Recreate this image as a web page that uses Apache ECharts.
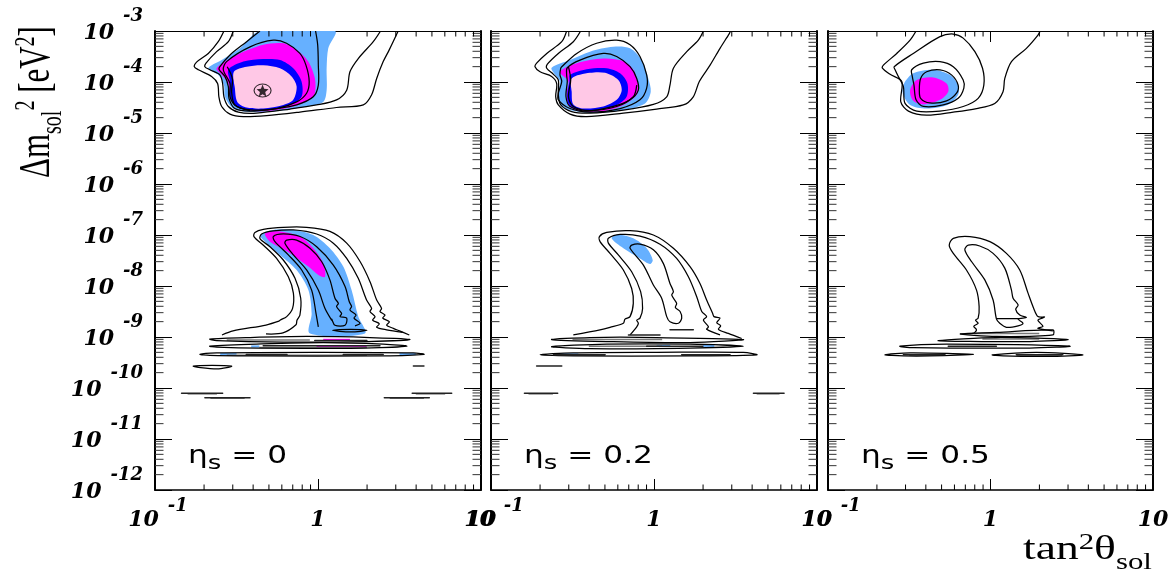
<!DOCTYPE html>
<html><head><meta charset="utf-8">
<style>html,body{margin:0;padding:0;background:#fff}#c{width:1172px;height:572px}</style>
<script src="https://cdn.jsdelivr.net/npm/echarts@6/dist/echarts.min.js"></script>
</head><body><div id="c"></div>
<script>
// All contours are [log10(tan^2 theta), log10(dm^2 / eV^2)].
const panelLabels = ['0','0.2','0.5'];
const yDecades = [-12,-11,-10,-9,-8,-7,-6,-5,-4];
const xDecades = [-1,0];
const minorMultipliers = [2,3,4,5,6,7,8,9];
const bestFit = [[0.457,6.8e-5]];

// ---- panel 1, large-mixing region
const p1Outer=[[-.577,-3],[-.612,-3.21],[-.673,-3.44],[-.745,-3.61],[-.759,-3.70],[-.734,-3.76],[-.653,-3.89],[-.616,-4.03],[-.608,-4.29],[-.591,-4.48],[-.54,-4.63],[-.458,-4.68],[-.315,-4.66],[-.111,-4.59],[.114,-4.50],[.278,-4.45],[.329,-4.25],[.36,-3.93],[.40,-3.60],[.437,-3.37],[.492,-3]];
const p1Second=[[-.52,-3],[-.55,-3.21],[-.622,-3.405],[-.687,-3.63],[-.694,-3.70],[-.663,-3.76],[-.602,-3.86],[-.585,-4.03],[-.577,-4.29],[-.55,-4.48],[-.489,-4.59],[-.377,-4.61],[-.172,-4.53],[-.009,-4.45],[.114,-4.35],[.176,-4.16],[.196,-3.80],[.247,-3.54],[.339,-3.21],[.384,-3]];
const p1Third=[[-.356,-3],[-.438,-3.21],[-.54,-3.47],[-.602,-3.70],[-.606,-3.76],[-.571,-3.89],[-.55,-4.09],[-.546,-4.32],[-.51,-4.52],[-.417,-4.57],[-.254,-4.52],[-.131,-4.45],[-.029,-4.29],[.002,-4.06],[.002,-3.67],[-.002,-3.27],[-.015,-3]];
const p1Fourth=[[-.561,-3.60],[-.417,-3.31],[-.274,-3.18],[-.193,-3.24],[-.111,-3.44],[-.074,-3.67],[-.054,-3.99],[-.07,-4.22],[-.131,-4.39],[-.254,-4.52],[-.397,-4.55],[-.499,-4.48],[-.54,-4.29],[-.54,-4.03],[-.581,-3.76]];
const p1Fifth=[[-.557,-3.70],[-.536,-3.83],[-.524,-3.96],[-.53,-4.19],[-.51,-4.45],[-.417,-4.56]];
const p1Light=[[-.356,-3],[.104,-3],[.063,-3.34],[.053,-3.73],[.053,-4.16],[.032,-4.39],[-.07,-4.48],[-.254,-4.57],[-.417,-4.59],[-.52,-4.52],[-.571,-4.29],[-.577,-4.06],[-.612,-3.86],[-.673,-3.73],[-.591,-3.57],[-.479,-3.34]];
const p1Magenta=[[-.622,-3.73],[-.499,-3.47],[-.336,-3.27],[-.213,-3.24],[-.131,-3.37],[-.06,-3.60],[-.019,-3.93],[-.019,-4.22],[-.05,-4.35],[-.152,-4.48],[-.315,-4.57],[-.438,-4.55],[-.51,-4.45],[-.54,-4.29],[-.55,-4.03],[-.591,-3.86]];
const p1Blue=[[-.55,-3.76],[-.458,-3.60],[-.336,-3.55],[-.233,-3.57],[-.152,-3.73],[-.101,-3.99],[-.101,-4.29],[-.172,-4.45],[-.315,-4.55],[-.438,-4.55],[-.51,-4.45],[-.54,-4.29],[-.54,-3.99]];
const p1Pink=[[-.516,-3.80],[-.438,-3.70],[-.336,-3.67],[-.233,-3.73],[-.162,-3.89],[-.131,-4.09],[-.152,-4.35],[-.213,-4.45],[-.336,-4.52],[-.438,-4.50],[-.495,-4.39],[-.51,-4.12]];

// ---- panel 2, large-mixing region
const p2Outer=[[-.536,-3],[-.566,-3.21],[-.658,-3.44],[-.72,-3.63],[-.73,-3.70],[-.699,-3.80],[-.628,-3.89],[-.597,-4.03],[-.603,-4.29],[-.587,-4.45],[-.515,-4.63],[-.413,-4.68],[-.188,-4.61],[.016,-4.53],[.18,-4.45],[.241,-4.29],[.278,-3.99],[.344,-3.67],[.405,-3.34],[.462,-3.05],[.47,-3]];
const p2Second=[[-.45,-3],[-.495,-3.21],[-.587,-3.44],[-.654,-3.65],[-.658,-3.73],[-.617,-3.85],[-.587,-3.96],[-.587,-4.25],[-.572,-4.45],[-.505,-4.58],[-.393,-4.61],[-.188,-4.55],[-.004,-4.44],[.078,-4.29],[.098,-4.06],[.119,-3.73],[.201,-3.405],[.272,-3.18],[.303,-3]];
const p2Third=[[-.566,-3.70],[-.474,-3.44],[-.352,-3.24],[-.229,-3.18],[-.147,-3.27],[-.086,-3.50],[-.045,-3.86],[-.045,-4.12],[-.086,-4.35],[-.208,-4.52],[-.393,-4.59],[-.515,-4.52],[-.587,-4.35],[-.587,-4.22],[-.566,-3.99],[-.577,-3.86],[-.572,-3.73]];
const p2Fourth=[[-.532,-3.72],[-.454,-3.57],[-.311,-3.44],[-.229,-3.50],[-.147,-3.70],[-.106,-3.93],[-.096,-4.16],[-.147,-4.35],[-.249,-4.48],[-.413,-4.57],[-.515,-4.48],[-.54,-4.29],[-.532,-3.99],[-.536,-3.86]];
const p2Fifth=[[-.525,-3.70],[-.511,-3.96],[-.525,-4.29],[-.495,-4.48],[-.393,-4.56],[-.229,-4.48],[-.127,-4.29],[-.106,-4.06]];
const p2Light=[[-.628,-3.72],[-.515,-3.57],[-.393,-3.405],[-.25,-3.31],[-.147,-3.34],[-.076,-3.57],[-.035,-3.93],[-.02,-4.19],[-.055,-4.42],[-.188,-4.55],[-.372,-4.61],[-.515,-4.55],[-.577,-4.42],[-.587,-4.22],[-.577,-3.99],[-.607,-3.86]];
const p2Magenta=[[-.577,-3.80],[-.474,-3.63],[-.311,-3.54],[-.188,-3.59],[-.127,-3.76],[-.096,-4.06],[-.106,-4.25],[-.188,-4.45],[-.311,-4.57],[-.454,-4.57],[-.525,-4.45],[-.536,-4.22],[-.525,-3.99]];
const p2Blue=[[-.515,-3.86],[-.413,-3.75],[-.29,-3.73],[-.208,-3.83],[-.163,-4.03],[-.168,-4.29],[-.229,-4.45],[-.352,-4.55],[-.474,-4.53],[-.525,-4.42],[-.532,-4.22],[-.519,-3.99]];
const p2Pink=[[-.505,-3.93],[-.393,-3.82],[-.30,-3.82],[-.219,-3.96],[-.198,-4.16],[-.229,-4.35],[-.311,-4.48],[-.433,-4.52],[-.495,-4.44],[-.505,-4.19]];

// ---- panel 3, large-mixing region
const p3Outer=[[-.458,-3],[-.495,-3.18],[-.577,-3.44],[-.659,-3.67],[-.665,-3.73],[-.618,-3.85],[-.546,-3.99],[-.552,-4.39],[-.505,-4.57],[-.393,-4.65],[-.229,-4.59],[-.086,-4.52],[.026,-4.42],[.077,-4.19],[.088,-3.93],[.129,-3.60],[.221,-3.34],[.292,-3.08],[.306,-3]];
const p3Second=[[-.593,-3.70],[-.475,-3.44],[-.311,-3.11],[-.229,-3.06],[-.168,-3.14],[-.096,-3.405],[-.049,-3.73],[-.041,-4.06],[-.076,-4.32],[-.168,-4.48],[-.311,-4.57],[-.454,-4.57],[-.526,-4.42],[-.536,-4.09],[-.567,-3.895],[-.587,-3.76]];
const p3Third=[[-.485,-3.76],[-.413,-3.63],[-.311,-3.60],[-.229,-3.70],[-.168,-3.96],[-.164,-4.12],[-.199,-4.32],[-.291,-4.45],[-.413,-4.48],[-.458,-4.35],[-.471,-4.06],[-.481,-3.895]];
const p3Fourth=[[-.43,-3.93],[-.393,-3.80],[-.311,-3.76],[-.24,-3.86],[-.199,-4.06],[-.209,-4.22],[-.27,-4.37],[-.373,-4.41],[-.43,-4.32],[-.438,-4.16]];
const p3Light=[[-.532,-4.03],[-.475,-3.83],[-.352,-3.76],[-.25,-3.86],[-.199,-4.06],[-.199,-4.25],[-.26,-4.44],[-.393,-4.52],[-.495,-4.45],[-.54,-4.22]];
const p3Magenta=[[-.495,-4.16],[-.454,-3.96],[-.352,-3.91],[-.27,-4.03],[-.26,-4.19],[-.311,-4.35],[-.413,-4.44],[-.475,-4.37]];

// ---- panel 1, low region tongues
const p1LowOuter=[[-.589,-8.96],[-.521,-8.88],[-.319,-8.765],[-.24,-8.69],[-.233,-8.67],[-.192,-8.60],[-.156,-8.44],[-.151,-8.14],[-.182,-7.82],[-.254,-7.46],[-.335,-7.20],[-.393,-7.03],[-.387,-6.95],[-.335,-6.89],[-.213,-6.85],[-.07,-6.85],[.073,-6.93],[.176,-7.16],[.258,-7.52],[.319,-7.915],[.36,-8.275],[.39,-8.44],[.38,-8.50],[.411,-8.57],[.397,-8.63],[.438,-8.70],[.421,-8.77],[.462,-8.83],[.50,-8.88],[.56,-8.96]];
const p1LowSecond=[[-.319,-8.94],[-.215,-8.92],[-.135,-8.76],[-.129,-8.67],[-.111,-8.57],[-.106,-8.24],[-.141,-7.85],[-.213,-7.49],[-.295,-7.23],[-.356,-7.07],[-.346,-6.98],[-.274,-6.92],[-.151,-6.90],[-.008,-6.98],[.094,-7.16],[.176,-7.46],[.247,-7.85],[.298,-8.275],[.329,-8.44],[.319,-8.50],[.35,-8.60],[.335,-8.67],[.376,-8.74],[.36,-8.81],[.421,-8.86],[.52,-8.91]];
const p1LowThird=[[.002,-8.80],[-.012,-8.54],[-.039,-8.08],[-.10,-7.686],[-.182,-7.39],[-.264,-7.13],[-.274,-7.03],[-.213,-6.98],[-.11,-7.03],[-.008,-7.23],[.094,-7.59],[.166,-8.01],[.192,-8.31],[.206,-8.40],[.196,-8.47],[.233,-8.57],[.221,-8.63],[.258,-8.73],[.227,-8.78]];
const p1LowFourth=[[.084,-8.67],[.043,-8.44],[.002,-8.08],[-.07,-7.686],[-.151,-7.39],[-.203,-7.16],[-.192,-7.10],[-.131,-7.10],[-.049,-7.26],[.022,-7.52],[.073,-7.88],[.104,-8.24],[.125,-8.34],[.114,-8.405],[.145,-8.54],[.135,-8.60],[.176,-8.63],[.166,-8.77],[.104,-8.77],[.084,-8.65]];
const p1LowLight=[[-.356,-7],[-.274,-6.90],[-.151,-6.90],[-.029,-7],[.073,-7.26],[.155,-7.62],[.206,-8.08],[.247,-8.60],[.288,-8.93],[-.049,-8.93],[-.039,-8.54],[-.059,-8.08],[-.131,-7.686],[-.233,-7.39],[-.315,-7.16]];
const p1LowMagenta=[[-.325,-6.97],[-.233,-6.93],[-.11,-7.03],[-.029,-7.26],[.033,-7.556],[.043,-7.82],[.002,-7.784],[-.059,-7.62],[-.141,-7.425],[-.223,-7.26],[-.295,-7.13]];
const p1Flat0=[[.09,-8.87],[.20,-8.85],[.30,-8.87],[.20,-8.90]];
const p1Flat1=[[-.663,-9.04],[-.417,-9.01],[-.07,-8.99],[.319,-9.01],[.564,-9.05],[.298,-9.09],[-.213,-9.10],[-.622,-9.07]];
const p1Flat2=[[-.663,-9.18],[-.377,-9.14],[.032,-9.11],[.40,-9.14],[.544,-9.18],[.278,-9.216],[-.356,-9.22],[-.622,-9.20]];
const p1Flat3=[[-.724,-9.34],[-.622,-9.31],[-.009,-9.30],[.585,-9.31],[.65,-9.34],[.40,-9.37],[-.417,-9.37],[-.663,-9.36]];
const p1Loop=[[-.765,-9.57],[-.65,-9.555],[-.53,-9.57],[-.56,-9.60],[-.62,-9.625],[-.72,-9.60]];
const p1Bars=[[[-.336,-9.17],[.38,-9.17]],[[-.02,-9.07],[.30,-9.07]],[[-.44,-9.345],[-.19,-9.345]],[[.155,-9.345],[.40,-9.345]],[[.585,-9.57],[.65,-9.57]],[[-.837,-10.105],[-.585,-10.105]],[[-.694,-10.19],[-.417,-10.19]],[[.407,-10.19],[.683,-10.19]],[[.578,-10.105],[.82,-10.105]]];
const p1GrayBars=[[[-.56,-9.06],[-.05,-9.06]],[[-.36,-9.205],[.30,-9.205]],[[-.56,-9.36],[.30,-9.36]],[[-.80,-10.115],[-.62,-10.115]],[[-.66,-10.20],[-.45,-10.20]],[[.44,-10.20],[.65,-10.20]],[[.60,-10.115],[.78,-10.115]]];
const p1LowMagentaBits=[[[-.009,-9.185],[.298,-9.185]],[[.032,-9.055],[.196,-9.055]]];
const p1LowBlueBits=[[[-.41,-9.185],[-.36,-9.185]],[[-.60,-9.335],[-.50,-9.335]],[[.50,-9.335],[.60,-9.335]]];

// ---- panel 2, low region tongues
const p2LowOuter=[[-.495,-8.96],[-.331,-8.86],[-.27,-8.81],[-.188,-8.73],[-.178,-8.65],[-.147,-8.60],[-.127,-8.34],[-.137,-8.05],[-.188,-7.686],[-.27,-7.36],[-.331,-7.13],[-.335,-7.03],[-.29,-6.95],[-.147,-6.915],[-.004,-7],[.119,-7.26],[.221,-7.62],[.282,-7.95],[.323,-8.275],[.36,-8.54],[.368,-8.60],[.405,-8.63],[.385,-8.72],[.409,-8.78],[.395,-8.85],[.456,-8.93],[.538,-9.03]];
const p2LowSecond=[[-.147,-8.96],[-.106,-8.80],[-.096,-8.73],[-.106,-8.67],[-.086,-8.63],[-.07,-8.44],[-.082,-8.11],[-.137,-7.72],[-.219,-7.39],[-.28,-7.16],[-.28,-7.065],[-.208,-6.99],[-.086,-7.02],[.037,-7.18],[.139,-7.46],[.211,-7.82],[.262,-8.21],[.293,-8.50],[.323,-8.60],[.303,-8.67],[.334,-8.80],[.323,-8.85],[.405,-8.96]];
const p2LowThird=[[-.147,-7.26],[-.137,-7.20],[-.086,-7.18],[-.004,-7.29],[.057,-7.556],[.098,-7.95],[.119,-8.11],[.109,-8.18],[.139,-8.34],[.131,-8.42],[.16,-8.50],[.17,-8.63],[.15,-8.73],[.098,-8.70],[.078,-8.60],[.047,-8.24],[-.004,-7.98],[-.065,-7.59]];
const p2LowLight=[[-.26,-7.065],[-.219,-6.995],[-.127,-7.065],[-.045,-7.26],[-.008,-7.49],[-.024,-7.57],[-.086,-7.46],[-.188,-7.26]];
const p2Flat1=[[-.628,-9.05],[-.393,-9.01],[.016,-9.01],[.548,-9.05],[.221,-9.11],[-.29,-9.09]];
const p2Flat2=[[-.628,-9.19],[-.29,-9.14],[.221,-9.14],[.548,-9.18],[.221,-9.216],[-.393,-9.23]];
const p2Flat3=[[-.699,-9.35],[-.495,-9.31],[.016,-9.30],[.548,-9.30],[.63,-9.35],[.221,-9.37],[-.495,-9.37]];
const p2Bars=[[[-.045,-9.18],[.30,-9.18]],[[-.617,-9.35],[-.30,-9.35]],[[.17,-9.35],[.466,-9.35]],[[-.157,-8.96],[.037,-8.96]],[[.098,-8.86],[.241,-8.86]],[[-.72,-9.57],[-.566,-9.57]],[[-.795,-10.105],[-.591,-10.105]],[[.61,-10.105],[.798,-10.105]]];
const p2GrayBars=[[[-.50,-9.05],[.05,-9.05]],[[-.40,-9.18],[.05,-9.18]],[[-.60,-9.36],[-.30,-9.36]],[[.17,-9.36],[.47,-9.36]],[[-.77,-10.115],[-.62,-10.115]],[[.63,-10.115],[.77,-10.115]]];
const p2LowBlueBits=[[[-.576,-9.34],[-.464,-9.34]],[[.016,-9.175],[.10,-9.175]],[[.30,-9.175],[.37,-9.175]]];

// ---- panel 3, low region tongues
const p3LowOuter=[[-.188,-8.94],[-.107,-8.93],[-.086,-8.86],[-.103,-8.79],[-.076,-8.73],[-.092,-8.67],[-.076,-8.63],[-.07,-8.405],[-.086,-8.08],[-.148,-7.686],[-.229,-7.36],[-.254,-7.20],[-.229,-7.065],[-.127,-7.03],[-.004,-7.13],[.098,-7.36],[.18,-7.686],[.231,-8.14],[.266,-8.44],[.292,-8.60],[.333,-8.61],[.292,-8.67],[.323,-8.79],[.292,-8.83],[.384,-8.88]];
const p3LowInner=[[-.158,-7.29],[-.137,-7.20],[-.066,-7.216],[.016,-7.36],[.088,-7.65],[.129,-8.08],[.139,-8.24],[.17,-8.37],[.155,-8.46],[.18,-8.57],[.221,-8.62],[.17,-8.65],[.20,-8.73],[.17,-8.78],[.098,-8.81],[.057,-8.73],[.037,-8.65],[.016,-8.275],[-.035,-7.88],[-.117,-7.52]];
const p3LowCross=[[.037,-8.64],[.18,-8.64]];
const p3Flat1=[[-.188,-8.94],[.037,-8.91],[.384,-8.86],[.384,-8.96],[.037,-8.99]];
const p3Flat2=[[-.321,-9.07],[.037,-9.01],[.476,-9.05],[.241,-9.09],[-.168,-9.085]];
const p3Flat3=[[-.557,-9.18],[-.27,-9.14],[.486,-9.18],[.241,-9.216],[-.475,-9.21]];
const p3Flat4=[[-.649,-9.35],[-.495,-9.31],[-.107,-9.34],[-.373,-9.37],[-.536,-9.37]];
const p3Flat5=[[.012,-9.35],[.282,-9.30],[.568,-9.35],[.343,-9.38],[.077,-9.37]];
const p3Bars=[[[-.26,-9.18],[.036,-9.18]],[[-.536,-9.35],[-.28,-9.35]],[[.159,-9.35],[.445,-9.35]]];
const p3GrayBars=[[[-.10,-8.93],[.30,-8.93]],[[-.05,-9.04],[.30,-9.04]],[[-.50,-9.36],[-.30,-9.36]],[[.16,-9.36],[.44,-9.36]]];

const COL={light:'#66b0ff',magenta:'#ff00ff',blue:'#0000ff',pink:'#ffc8e6'};
const panels=[
 {fills:[[p1Light,COL.light],[p1Magenta,COL.magenta],[p1Blue,COL.blue],[p1Pink,COL.pink],[p1LowLight,COL.light],[p1LowMagenta,COL.magenta]],
  open:[p1Outer,p1Second,p1Third,p1Fifth,p1LowOuter,p1LowSecond,p1LowThird],
  closed:[p1Fourth,p1LowFourth,p1Flat0,p1Flat1,p1Flat2,p1Flat3,p1Loop],
  bars:p1Bars,gray:p1GrayBars,bits:[[p1LowMagentaBits,COL.magenta],[p1LowBlueBits,COL.light]]},
 {fills:[[p2Light,COL.light],[p2Magenta,COL.magenta],[p2Blue,COL.blue],[p2Pink,COL.pink],[p2LowLight,COL.light]],
  open:[p2Outer,p2Second,p2Fifth,p2LowOuter,p2LowSecond],
  closed:[p2Third,p2Fourth,p2LowThird,p2Flat1,p2Flat2,p2Flat3],
  bars:p2Bars,gray:p2GrayBars,bits:[[p2LowBlueBits,COL.light]]},
 {fills:[[p3Light,COL.light],[p3Magenta,COL.magenta]],
  open:[p3Outer,p3LowOuter,p3LowCross],
  closed:[p3Second,p3Third,p3Fourth,p3LowInner,p3Flat1,p3Flat2,p3Flat3,p3Flat4,p3Flat5],
  bars:p3Bars,gray:p3GrayBars,bits:[]}
];
const gridBoxes=[{left:155,width:326},{left:491,width:326},{left:828,width:325}];

const SERIF='"DejaVu Serif"';
const tickFont={fontFamily:SERIF,fontWeight:'bold',fontStyle:'italic',color:'#000'};
const richY={
  b:{...tickFont,fontSize:22,padding:[4,0,0,0]},
  s:{...tickFont,fontSize:18,padding:[0,0,30,9]}
};
const richX={
  d:{...tickFont,fontSize:22,padding:[12,0,0,0]},
  c:{...tickFont,fontSize:22,padding:[2,0,0,6]},
  s:{...tickFont,fontSize:18,padding:[0,0,26,9]}
};
const expOf=v=>Math.round(Math.log10(v));
const xLabel=v=>{const e=expOf(v);return e===0?'{d|1}':e===1?'{d|10}':'{c|10}{s|'+e+'}';};
const yLabel=v=>'{b|10}{s|'+expOf(v)+'}';

const grid=[],xAxis=[],yAxis=[],series=[];
const toData=a=>a.map(p=>[Math.pow(10,p[0]),Math.pow(10,p[1])]);
function shapeSeries(pts,gi,kind,style,z,smooth){
  return {type:'custom',coordinateSystem:'cartesian2d',xAxisIndex:gi*2,yAxisIndex:gi*2,silent:true,clip:true,z,
    data:toData(pts),
    renderItem:(params,api)=>{
      if(params.dataIndex!==0) return null;
      const points=toData(pts).map(p=>api.coord(p));
      return {type:kind,shape:{points,smooth},style};
    }};
}
panels.forEach((P,i)=>{
  grid.push({left:gridBoxes[i].left,width:gridBoxes[i].width,top:31,height:459,containLabel:false});
  const base={type:'log',logBase:10,gridIndex:i,axisPointer:{show:false},splitLine:{show:false},minorTick:{show:false}};
  xAxis.push({...base,position:'bottom',min:0.1,max:10,interval:1,
    axisLine:{show:true,onZero:false,lineStyle:{color:'#000',width:1.5}},
    axisTick:{show:true,inside:true,length:11,lineStyle:{color:'#000',width:1}},
    axisLabel:{show:true,hideOverlap:false,margin:7,showMinLabel:true,showMaxLabel:true,formatter:xLabel,rich:richX}});
  xAxis.push({...base,position:'top',min:0.1,max:10,interval:1,
    axisLine:{show:true,onZero:false,lineStyle:{color:'#000',width:1}},
    axisTick:{show:true,inside:true,length:11,lineStyle:{color:'#000',width:1}},axisLabel:{show:false}});
  yAxis.push({...base,position:'left',min:1e-12,max:1e-3,interval:1,
    axisLine:{show:true,onZero:false,lineStyle:{color:'#000',width:2}},
    axisTick:{show:true,inside:true,length:17,lineStyle:{color:'#000',width:1}},
    axisLabel:{show:i===0,hideOverlap:false,margin:12,showMinLabel:true,showMaxLabel:true,formatter:yLabel,rich:richY}});
  yAxis.push({...base,position:'right',min:1e-12,max:1e-3,interval:1,
    axisLine:{show:true,onZero:false,lineStyle:{color:'#000',width:2}},
    axisTick:{show:true,inside:true,length:17,lineStyle:{color:'#000',width:1}},axisLabel:{show:false}});

  P.fills.forEach(([pts,c],k)=>series.push(shapeSeries(pts,i,'polygon',{fill:c},2+k*0.01,0.3)));
  P.bits.forEach(([list,c])=>list.forEach(pts=>series.push(shapeSeries(pts,i,'polyline',{stroke:c,fill:'none',lineWidth:2},3,0))));
  P.gray.forEach(pts=>series.push(shapeSeries(pts,i,'polyline',{stroke:'#777',fill:'none',lineWidth:1.5},3.5,0)));
  const line={stroke:'#000',fill:'none',lineWidth:1.25};
  P.open.forEach(pts=>series.push(shapeSeries(pts,i,'polyline',line,4,0.3)));
  P.closed.forEach(pts=>series.push(shapeSeries(pts,i,'polygon',line,4,0.3)));
  P.bars.forEach(pts=>series.push(shapeSeries(pts,i,'polyline',{stroke:'#222',fill:'none',lineWidth:1.5,lineCap:'round'},5,0)));

  // minor ticks on all four sides
  const ticks=[];
  yDecades.forEach(d=>minorMultipliers.forEach(m=>{
    ticks.push([0.1,m*Math.pow(10,d),0]);ticks.push([10,m*Math.pow(10,d),1]);}));
  xDecades.forEach(d=>minorMultipliers.forEach(m=>{
    ticks.push([m*Math.pow(10,d),1e-12,2]);ticks.push([m*Math.pow(10,d),1e-3,3]);}));
  series.push({type:'custom',coordinateSystem:'cartesian2d',xAxisIndex:i*2,yAxisIndex:i*2,silent:true,clip:false,z:6,
    data:ticks,encode:{x:0,y:1},
    renderItem:(params,api)=>{
      const p=api.coord([api.value(0),api.value(1)]),s=api.value(2);
      const dx=s===0?8.5:s===1?-8.5:0,dy=s===2?-5.5:s===3?5.5:0;
      return {type:'line',shape:{x1:p[0],y1:p[1],x2:p[0]+dx,y2:p[1]+dy},style:{stroke:s<2?'#333':'#000',lineWidth:1}};
    }});
});
// best-fit star and its ring, first panel
series.push({type:'scatter',xAxisIndex:0,yAxisIndex:0,data:bestFit,z:8,silent:true,
  symbol:'path://M12 1l3 7.5 8 .6-6.1 5.2 1.9 7.9L12 18l-6.8 4.2 1.9-7.9L1 9.1l8-.6z',symbolSize:12,itemStyle:{color:'#000'}});
series.push({type:'scatter',xAxisIndex:0,yAxisIndex:0,data:bestFit,z:8,silent:true,
  symbol:'circle',symbolSize:[17,13],itemStyle:{color:'transparent',borderColor:'#000',borderWidth:1}});

const labelRich={e:{fontFamily:'"DejaVu Sans"',fontSize:24,color:'#111',padding:[0,0,6,0]},
                 u:{fontFamily:'"DejaVu Sans"',fontSize:20,color:'#111',padding:[8,0,0,0]}};
const etaLabels=panelLabels.map((t,i)=>({type:'text',x:gridBoxes[i].left+33,y:445,z:20,scaleX:1.3,
  style:{text:'{e|\u03b7}{u|s}{e| = '+t+'}',rich:labelRich}}));
const titleRich={a:{fontFamily:'"Liberation Serif"',fontSize:31,color:'#000',padding:[0,0,14,0]},
  sub:{fontFamily:'"Liberation Serif"',fontSize:20,color:'#000',padding:[8,0,0,0]},
  sup:{fontFamily:'"Liberation Serif"',fontSize:20,color:'#000',padding:[0,0,30,0]}};
const xRich={a:{fontFamily:'"Liberation Serif"',fontSize:34,color:'#000',padding:[0,0,12,0]},
  sub:{fontFamily:'"Liberation Serif"',fontSize:23,color:'#000',padding:[12,0,0,0]},
  sup:{fontFamily:'"Liberation Serif"',fontSize:23,color:'#000',padding:[0,0,28,0]}};
const titles=[
 {type:'text',x:12,y:178,rotation:Math.PI/2,z:20,scaleY:1.42,style:{text:'{a|\u0394m}{sub|sol}{sup|2}{a| [eV}{sup|2}{a|]}',rich:titleRich}},
 {type:'text',x:1023,y:531,z:20,scaleX:1.34,style:{text:'{a|tan}{sup|2}{a|\u03b8}{sub|sol}',rich:xRich}}
];
const chart=echarts.init(document.getElementById('c'),null,{renderer:'canvas'});
chart.setOption({animation:false,backgroundColor:'#fff',grid,xAxis,yAxis,series,graphic:[...etaLabels,...titles]});
</script></body></html>
